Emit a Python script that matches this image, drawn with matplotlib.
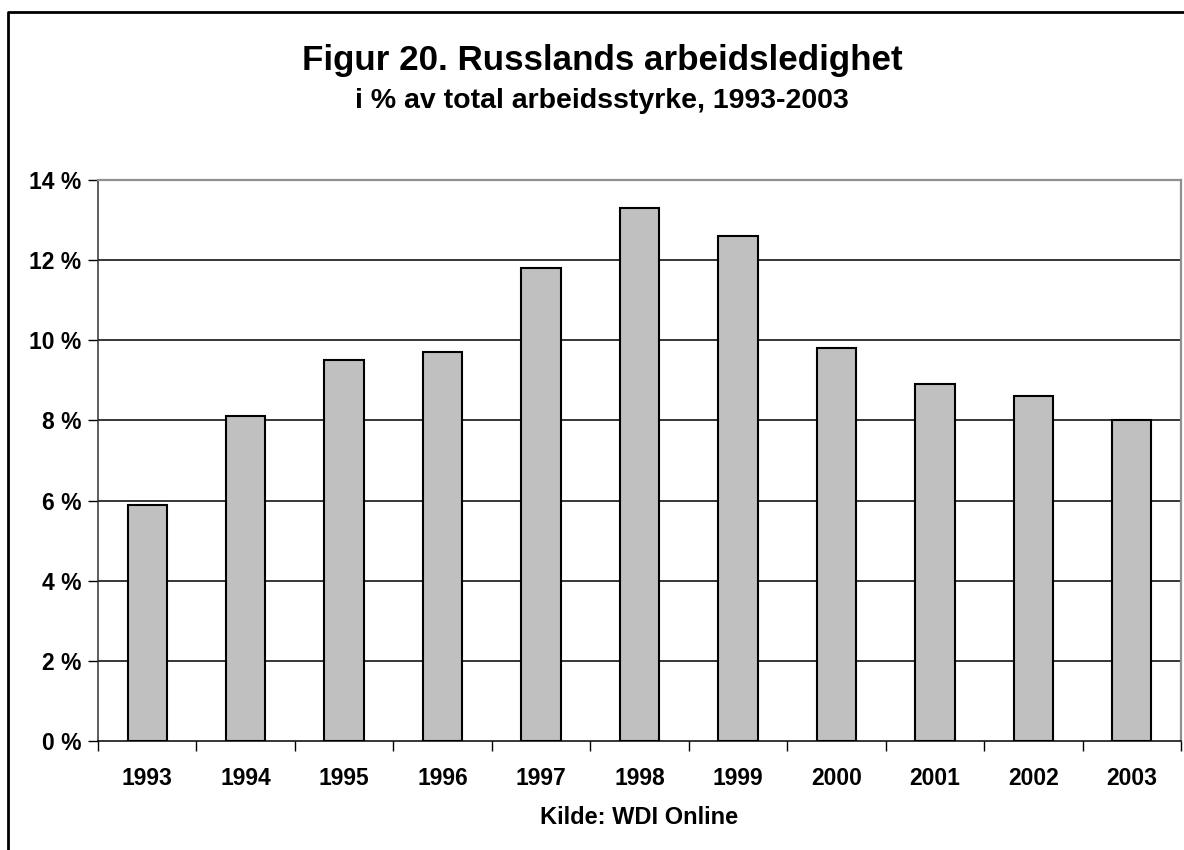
import matplotlib.pyplot as plt
from matplotlib.lines import Line2D
import numpy as np

plt.rcParams['font.family'] = ['Liberation Sans', 'DejaVu Sans']
plt.rcParams['font.weight'] = 'bold'

# Arbeidsledighet i Russland, % av total arbeidsstyrke (WDI Online)
years = ['1993', '1994', '1995', '1996', '1997', '1998', '1999', '2000', '2001', '2002', '2003']
unemployment = [5.9, 8.1, 9.5, 9.7, 11.8, 13.3, 12.6, 9.8, 8.9, 8.6, 8.0]
y_ticks = [0, 2, 4, 6, 8, 10, 12, 14]
y_tick_labels = ['%d %%' % v for v in y_ticks]

W, H = 1184, 850
fig = plt.figure(figsize=(W / 100, H / 100), dpi=100)
fig.patch.set_facecolor('white')

# plot area in pixel coords
left, right, top, bottom = 98, 1181, 180, 741
ax = fig.add_axes([left / W, 1 - bottom / H, (right - left) / W, (bottom - top) / H])

x = np.arange(len(years))
ax.bar(x, unemployment, width=0.4, color='#c0c0c0', edgecolor='black', linewidth=1.5, zorder=3)

ax.set_xlim(-0.5, len(years) - 0.5)
ax.set_ylim(0, 14)
ax.set_yticks(y_ticks)
ax.set_yticklabels(y_tick_labels, fontsize=16.5, fontweight='bold')
ax.set_xticks(x)
ax.set_xticklabels(years, fontsize=16.5, fontweight='bold')
ax.set_xticks(np.arange(-0.5, len(years)), minor=True)
ax.tick_params(axis='x', which='major', length=0, pad=19)
ax.tick_params(axis='x', which='minor', length=7, width=1, color='black', direction='out')
ax.tick_params(axis='y', length=7, width=1, color='black', direction='out', pad=5)

# horizontal gridlines
for v in y_ticks[1:-1]:
    ax.axhline(v, color='black', linewidth=1.1, zorder=1)

for side in ['top', 'right']:
    ax.spines[side].set_color('#909090')
    ax.spines[side].set_linewidth(1.6)
ax.spines['left'].set_color('#303030')
ax.spines['left'].set_linewidth(1.1)
ax.spines['bottom'].set_color('black')
ax.spines['bottom'].set_linewidth(1.1)

# titles
title_x = 602 / W
fig.text(title_x, 1 - 70 / H, 'Figur 20. Russlands arbeidsledighet', ha='center', va='baseline',
         fontsize=25.2, fontweight='bold')
fig.text(title_x, 1 - 108 / H, 'i % av total arbeidsstyrke, 1993-2003', ha='center', va='baseline',
         fontsize=20.5, fontweight='bold')
fig.text((left + right) / 2 / W, 1 - 824 / H, 'Kilde: WDI Online', ha='center', va='baseline',
         fontsize=17, fontweight='bold')

# outer frame (only left and top visible in the crop)
fig.add_artist(Line2D([8 / W, 8 / W, 1.0], [0.0, 1 - 12 / H, 1 - 12 / H],
                      transform=fig.transFigure, color='black', linewidth=2))

fig.savefig('out.png', dpi=100, facecolor='white')
